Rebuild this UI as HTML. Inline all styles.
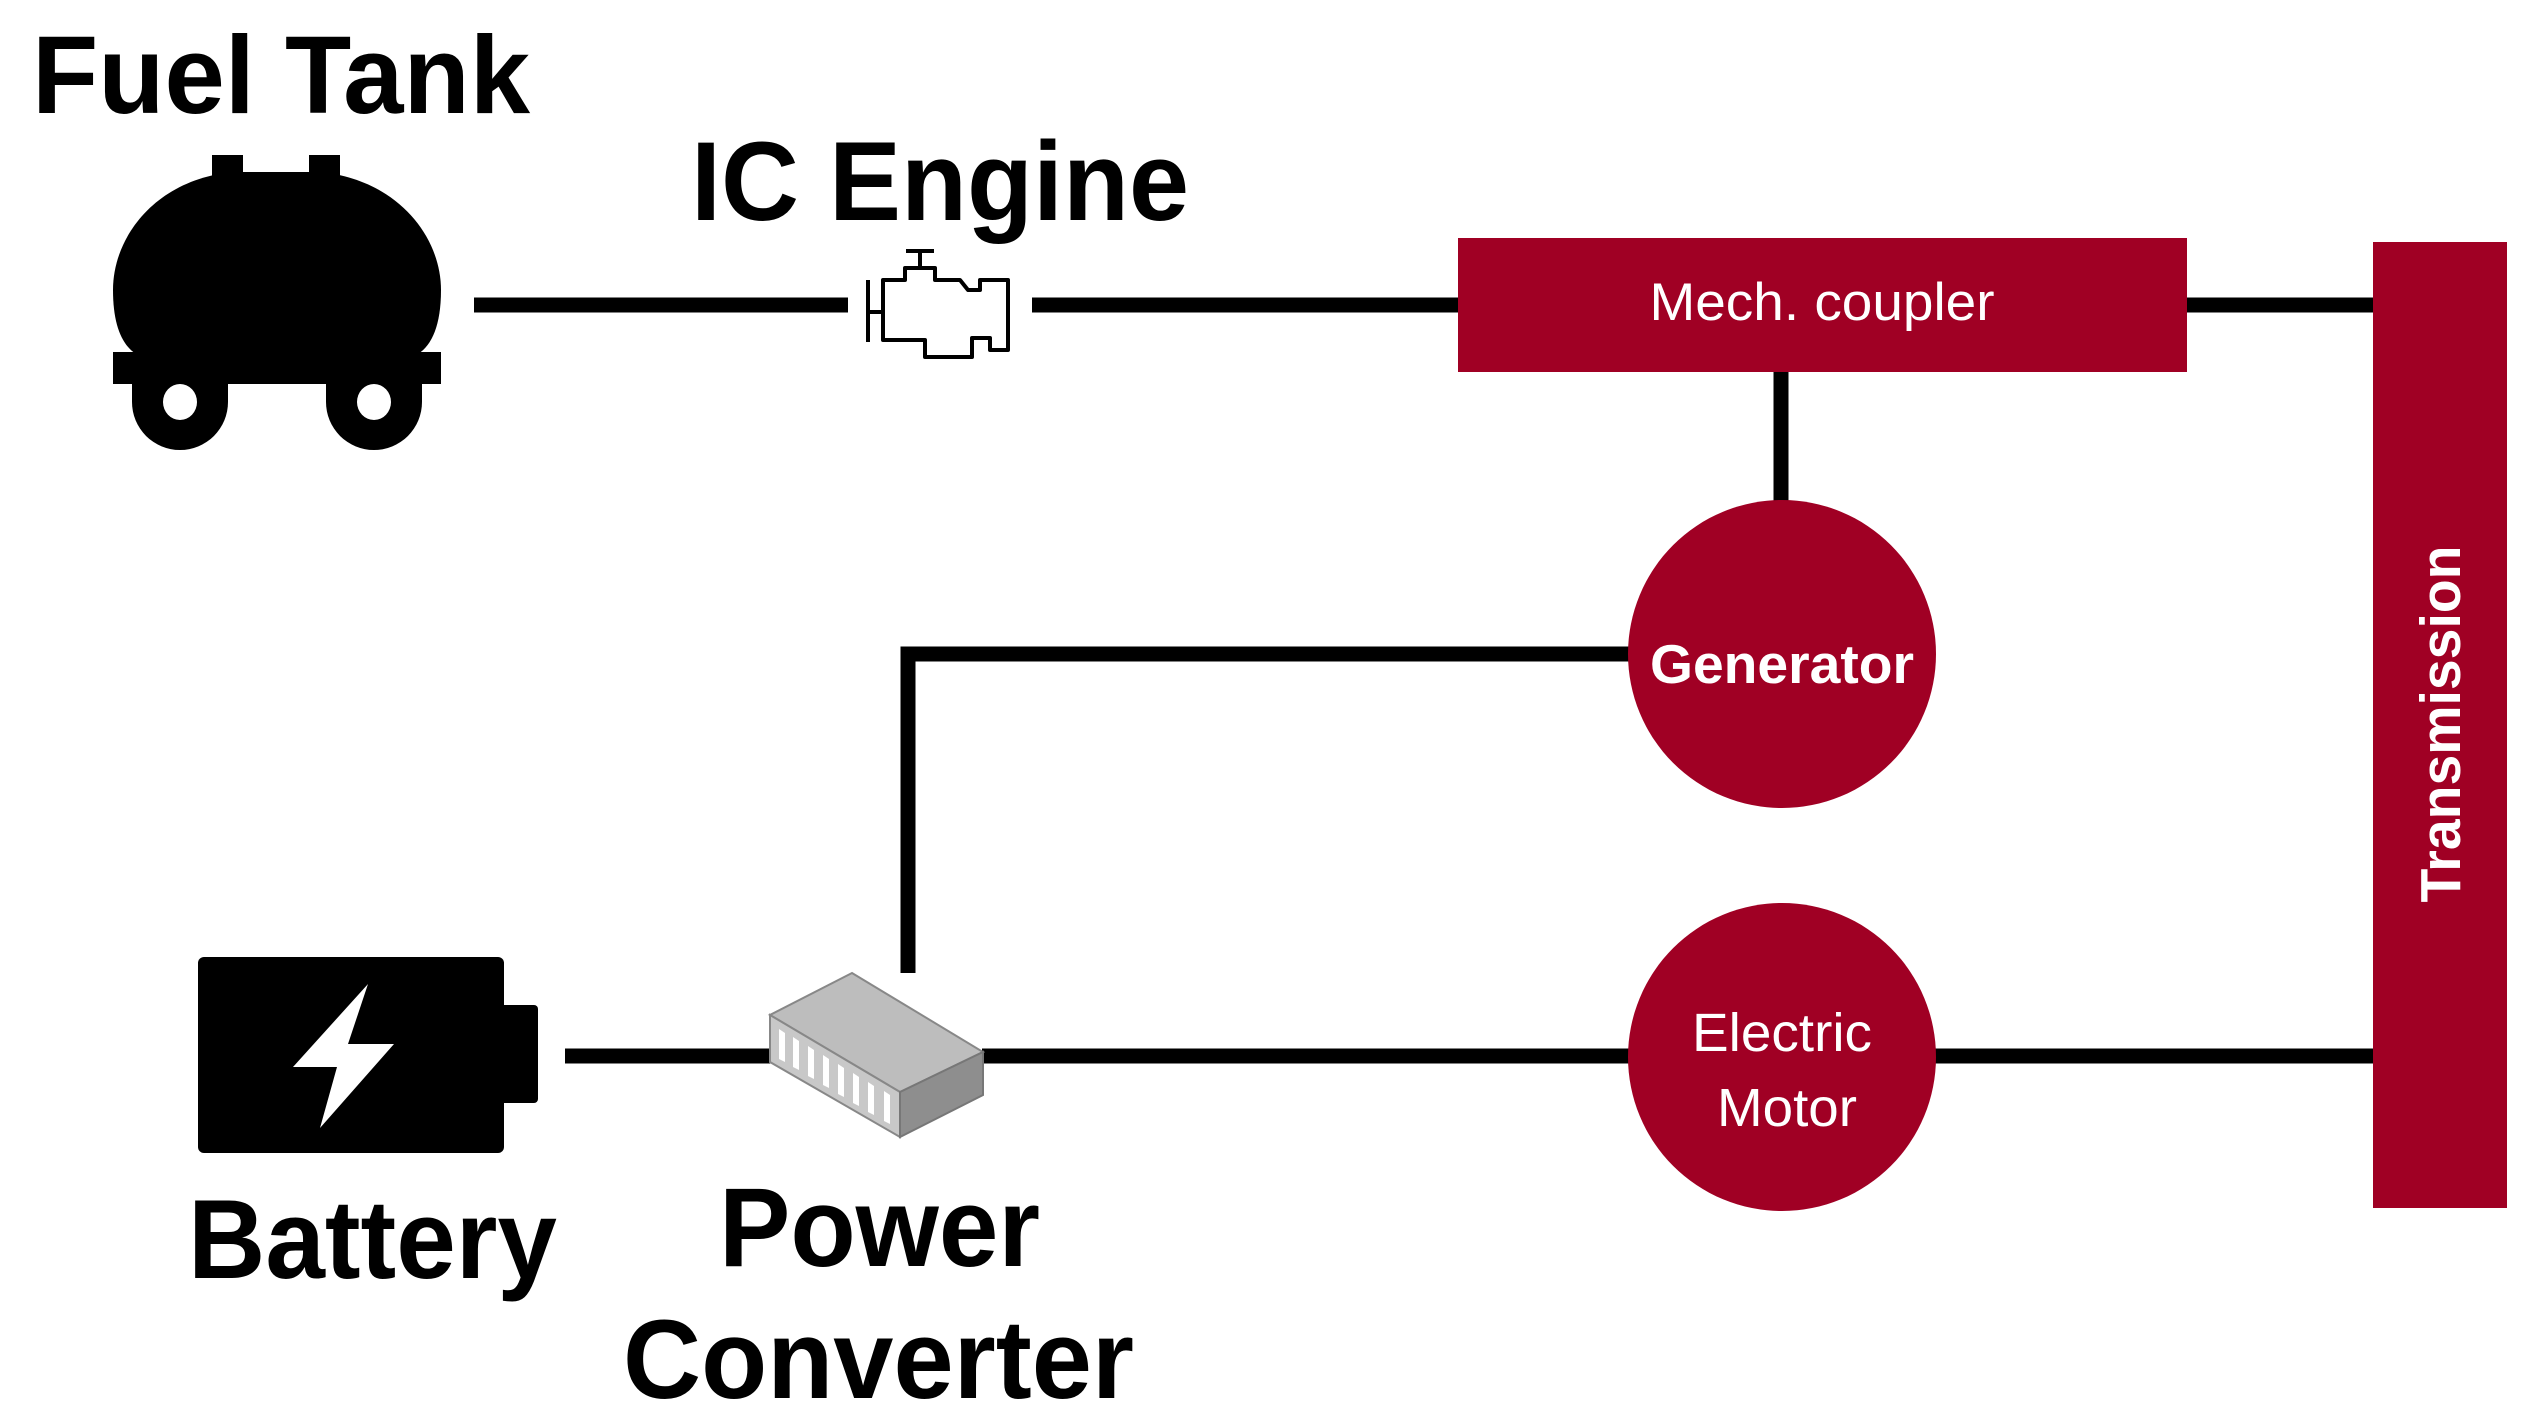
<!DOCTYPE html>
<html><head><meta charset="utf-8"><style>
html,body{margin:0;padding:0;background:#fff;}
svg{display:block;}
text{font-family:"Liberation Sans",Arial,sans-serif;}
</style></head><body>
<svg width="2537" height="1425" viewBox="0 0 2537 1425" xmlns="http://www.w3.org/2000/svg">
<g stroke="#000" stroke-width="15" fill="none">
<line x1="474" y1="305" x2="848" y2="305"/>
<line x1="1032" y1="305" x2="1460" y2="305"/>
<line x1="2185" y1="305" x2="2375" y2="305"/>
<line x1="1781" y1="361" x2="1781" y2="502"/>
<polyline points="1630,654 908,654 908,973"/>
<line x1="565" y1="1056" x2="772" y2="1056"/>
<line x1="982" y1="1056" x2="1630" y2="1056"/>
<line x1="1934" y1="1056" x2="2375" y2="1056"/>
</g>
<text x="32" y="113" font-size="110" font-weight="bold" fill="#000" textLength="498" lengthAdjust="spacingAndGlyphs">Fuel Tank</text>
<g fill="#000">
<rect x="212" y="155" width="31" height="22"/>
<rect x="309" y="155" width="31" height="22"/>
<path d="M235 172 H318 C395 178 441 235 441 290 C441 325 432 345 418 354 H136 C122 345 113 325 113 290 C113 235 158 178 235 172 Z"/>
<rect x="113" y="352" width="328" height="32"/>
<circle cx="180" cy="402" r="48"/>
<circle cx="374" cy="402" r="48"/>
<rect x="132" y="380" width="96" height="22"/>
<rect x="326" y="380" width="96" height="22"/>
</g>
<ellipse cx="180" cy="402" rx="17" ry="18" fill="#fff"/>
<ellipse cx="374" cy="402" rx="17" ry="18" fill="#fff"/>
<text x="691" y="220" font-size="112" font-weight="bold" fill="#000" textLength="498" lengthAdjust="spacingAndGlyphs">IC Engine</text>
<g stroke="#000" stroke-width="4" fill="#fff" stroke-linejoin="round">
<path d="M883 280 H905 V268 H935 V280 H960 L968 290 H980 V280 H1008 V350 H990 V338 H972 V357 H925 V340 H883 Z"/>
<path d="M920 268 V252 M906 251 H934 M868 280 V342 M868 312 H883" fill="none"/>
</g>
<rect x="1458" y="238" width="729" height="134" fill="#a00024"/>
<text x="1822" y="320" font-size="53" fill="#fff" text-anchor="middle" textLength="345" lengthAdjust="spacingAndGlyphs">Mech. coupler</text>
<rect x="2373" y="242" width="134" height="966" fill="#a00024"/>
<text transform="translate(2460,724) rotate(-90)" font-size="57" font-weight="bold" fill="#fff" text-anchor="middle" textLength="357" lengthAdjust="spacingAndGlyphs">Transmission</text>
<circle cx="1782" cy="654" r="154" fill="#a00024"/>
<text x="1782" y="683" font-size="55" font-weight="bold" fill="#fff" text-anchor="middle" textLength="264" lengthAdjust="spacingAndGlyphs">Generator</text>
<circle cx="1782" cy="1057" r="154" fill="#a00024"/>
<text x="1782" y="1051" font-size="54" fill="#fff" text-anchor="middle" textLength="180" lengthAdjust="spacingAndGlyphs">Electric</text>
<text x="1787" y="1126" font-size="54" fill="#fff" text-anchor="middle" textLength="140" lengthAdjust="spacingAndGlyphs">Motor</text>
<rect x="198" y="957" width="306" height="196" rx="6" fill="#000"/>
<rect x="495" y="1005" width="43" height="98" rx="4" fill="#000"/>
<polygon points="368,984 293,1067 337,1067 320,1128 394,1044 348,1044" fill="#fff"/>
<text x="188" y="1278" font-size="112" font-weight="bold" fill="#000" textLength="369" lengthAdjust="spacingAndGlyphs">Battery</text>
<polygon points="852,973 983,1052 900,1092 770,1015" fill="#bdbdbd" stroke="#888" stroke-width="2"/>
<polygon points="770,1015 900,1092 900,1137 770,1062" fill="#c8c8c8" stroke="#888" stroke-width="2"/>
<polygon points="900,1092 983,1052 983,1095 900,1137" fill="#8e8e8e" stroke="#777" stroke-width="2"/>
<g fill="#fff">
<polygon points="779,1029 785,1033 785,1062 779,1059"/>
<polygon points="793,1037 799,1041 799,1070 793,1067"/>
<polygon points="808,1046 814,1050 814,1079 808,1076"/>
<polygon points="823,1055 829,1059 829,1088 823,1085"/>
<polygon points="838,1064 844,1068 844,1097 838,1094"/>
<polygon points="853,1073 859,1077 859,1106 853,1103"/>
<polygon points="868,1082 874,1086 874,1115 868,1112"/>
<polygon points="884,1091 890,1095 890,1124 884,1121"/>
</g>
<text x="719" y="1266" font-size="112" font-weight="bold" fill="#000" textLength="321" lengthAdjust="spacingAndGlyphs">Power</text>
<text x="623" y="1398" font-size="112" font-weight="bold" fill="#000" textLength="511" lengthAdjust="spacingAndGlyphs">Converter</text>
</svg>
</body></html>
